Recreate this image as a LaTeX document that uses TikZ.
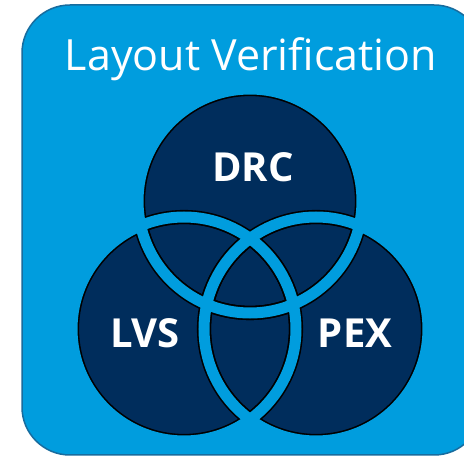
\documentclass[tikz,border=0pt]{standalone}
\usepackage{fontspec}
\setmainfont{Open Sans}
\definecolor{bgblue}{RGB}{0,157,222}
\definecolor{navy}{RGB}{0,45,92}
\definecolor{edgeblue}{RGB}{24,108,158}
\tikzset{
  titletext/.style={anchor=base, inner sep=0pt, text=white, font=\fontsize{43}{50}\selectfont},
  setlabel/.style={anchor=base, inner sep=0pt, text=white, font=\bfseries\fontsize{40}{46}\selectfont},
  blackring/.style={draw=black, line width=14.2pt},
  bluering/.style={draw=bgblue, line width=11pt},
}
\begin{document}
\begin{tikzpicture}[x=1pt,y=-1pt]
\useasboundingbox (0,0) rectangle (464,457);
\clip (0,0) rectangle (464,457);
\fill[white] (0,0) rectangle (464,457);
\draw[fill=bgblue, draw=edgeblue, line width=1.5pt, rounded corners=48pt] (22,5) rectangle (482,455);
\coordinate (cD) at (250,201);
\coordinate (cL) at (184,329);
\coordinate (cP) at (316,329);
\def\R{112pt}
% dark fills
\foreach \c in {cD,cL,cP} { \fill[navy] (\c) circle (\R); }
% black rims, clipped to the union of circles
\foreach \c in {cD,cL,cP} {
  \foreach \k in {cD,cL,cP} {
    \begin{scope}
      \clip (\k) circle (\R);
      \draw[blackring] (\c) circle (\R);
    \end{scope}
  }
}
% light blue bands
\foreach \c in {cD,cL,cP} { \draw[bluering] (\c) circle (\R); }
% texts
\node[titletext] (title) at (251,71) {Layout Verification};
\node[setlabel] (drc) at (253,182) {DRC};
\node[setlabel] (lvs) at (145,348) {LVS};
\node[setlabel] (pex) at (355,348) {PEX};
\end{tikzpicture}
\end{document}
